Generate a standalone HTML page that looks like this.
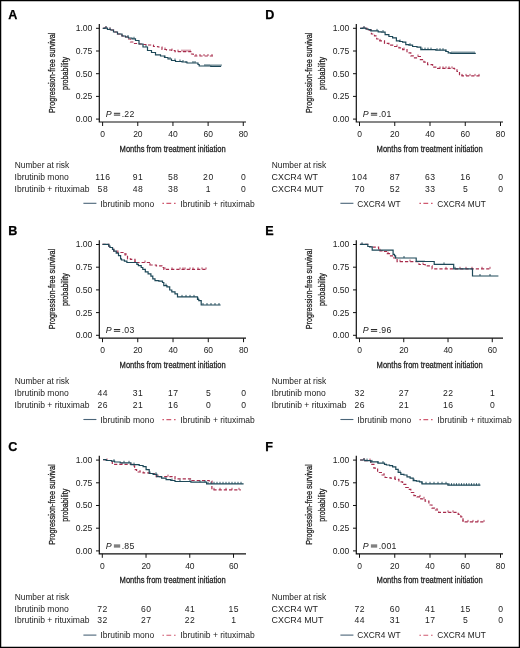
<!DOCTYPE html><html><head><meta charset="utf-8"><style>html,body{margin:0;padding:0;background:#fff}svg{display:block;will-change:transform}</style></head><body>
<svg width="520" height="648" viewBox="0 0 520 648" font-family='"Liberation Sans", sans-serif'>
<rect x="0" y="0" width="520" height="648" fill="#fff"/>
<g transform="translate(0.00,0.00)">
<text x="8.2" y="18.8" font-size="12.6" font-weight="bold" fill="#000" stroke="#000" stroke-width="0.25">A</text>
<text transform="translate(55.4,72.8) rotate(-90)" text-anchor="middle" font-size="9.2" fill="#222" stroke="#222" stroke-width="0.28" textLength="80.5" lengthAdjust="spacingAndGlyphs">Progression-free survival</text>
<text transform="translate(68.4,73.4) rotate(-90)" text-anchor="middle" font-size="9.2" fill="#222" stroke="#222" stroke-width="0.28" textLength="33" lengthAdjust="spacingAndGlyphs">probability</text>
<path d="M99.3,24 V122 H246.00" fill="none" stroke="#111" stroke-width="1.2"/>
<line x1="96" y1="28.30" x2="99.3" y2="28.30" stroke="#111" stroke-width="1"/>
<text x="92.4" y="31.30" text-anchor="end" font-size="8.6" fill="#222">1.00</text>
<line x1="96" y1="51.00" x2="99.3" y2="51.00" stroke="#111" stroke-width="1"/>
<text x="92.4" y="54.00" text-anchor="end" font-size="8.6" fill="#222">0.75</text>
<line x1="96" y1="73.70" x2="99.3" y2="73.70" stroke="#111" stroke-width="1"/>
<text x="92.4" y="76.70" text-anchor="end" font-size="8.6" fill="#222">0.50</text>
<line x1="96" y1="96.40" x2="99.3" y2="96.40" stroke="#111" stroke-width="1"/>
<text x="92.4" y="99.40" text-anchor="end" font-size="8.6" fill="#222">0.25</text>
<line x1="96" y1="119.10" x2="99.3" y2="119.10" stroke="#111" stroke-width="1"/>
<text x="92.4" y="122.10" text-anchor="end" font-size="8.6" fill="#222">0.00</text>
<line x1="102.60" y1="122" x2="102.60" y2="126" stroke="#111" stroke-width="1"/>
<text x="102.70" y="137.0" text-anchor="middle" font-size="8.5" fill="#222">0</text>
<line x1="137.77" y1="122" x2="137.77" y2="126" stroke="#111" stroke-width="1"/>
<text x="137.87" y="137.0" text-anchor="middle" font-size="8.5" fill="#222">20</text>
<line x1="172.94" y1="122" x2="172.94" y2="126" stroke="#111" stroke-width="1"/>
<text x="173.04" y="137.0" text-anchor="middle" font-size="8.5" fill="#222">40</text>
<line x1="208.11" y1="122" x2="208.11" y2="126" stroke="#111" stroke-width="1"/>
<text x="208.21" y="137.0" text-anchor="middle" font-size="8.5" fill="#222">60</text>
<line x1="243.28" y1="122" x2="243.28" y2="126" stroke="#111" stroke-width="1"/>
<text x="243.38" y="137.0" text-anchor="middle" font-size="8.5" fill="#222">80</text>
<text x="172.6" y="151.7" text-anchor="middle" font-size="9.8" fill="#222" stroke="#222" stroke-width="0.3" textLength="106" lengthAdjust="spacingAndGlyphs">Months from treatment initiation</text>
<text x="105.7" y="116.9" font-size="8.8" font-style="italic" fill="#222">P</text>
<path d="M113.9,113.3 H120.2 M113.9,115.1 H120.2" stroke="#222" stroke-width="0.95"/>
<text x="121.7" y="116.9" font-size="8.7" letter-spacing="0.25" fill="#222">.22</text>
<text x="14.7" y="167.8" font-size="8.4" fill="#222">Number at risk</text>
<text x="14.6" y="179.90" font-size="8.55" fill="#222">Ibrutinib mono</text>
<text x="102.90" y="179.90" text-anchor="middle" font-size="8.6" letter-spacing="0.55" fill="#222">116</text>
<text x="138.07" y="179.90" text-anchor="middle" font-size="8.6" letter-spacing="0.55" fill="#222">91</text>
<text x="173.24" y="179.90" text-anchor="middle" font-size="8.6" letter-spacing="0.55" fill="#222">58</text>
<text x="208.41" y="179.90" text-anchor="middle" font-size="8.6" letter-spacing="0.55" fill="#222">20</text>
<text x="243.58" y="179.90" text-anchor="middle" font-size="8.6" letter-spacing="0.55" fill="#222">0</text>
<text x="14.6" y="191.60" font-size="8.55" fill="#222">Ibrutinib + rituximab</text>
<text x="102.90" y="191.60" text-anchor="middle" font-size="8.6" letter-spacing="0.55" fill="#222">58</text>
<text x="138.07" y="191.60" text-anchor="middle" font-size="8.6" letter-spacing="0.55" fill="#222">48</text>
<text x="173.24" y="191.60" text-anchor="middle" font-size="8.6" letter-spacing="0.55" fill="#222">38</text>
<text x="208.41" y="191.60" text-anchor="middle" font-size="8.6" letter-spacing="0.55" fill="#222">1</text>
<text x="243.58" y="191.60" text-anchor="middle" font-size="8.6" letter-spacing="0.55" fill="#222">0</text>
<line x1="83.4" y1="203.3" x2="96.4" y2="203.3" stroke="#4a6478" stroke-width="1.1"/>
<text x="100.3" y="206.6" font-size="8.5" fill="#222">Ibrutinib mono</text>
<line x1="162.4" y1="203.4" x2="176.6" y2="203.4" stroke="#d05a70" stroke-width="1.1" stroke-dasharray="1.6,2.4,4.8,2.8,1.6"/>
<text x="180.3" y="206.6" font-size="8.5" fill="#222">Ibrutinib + rituximab</text>
</g>
<g transform="translate(0.00,216.20)">
<text x="8.2" y="18.8" font-size="12.6" font-weight="bold" fill="#000" stroke="#000" stroke-width="0.25">B</text>
<text transform="translate(55.4,72.8) rotate(-90)" text-anchor="middle" font-size="9.2" fill="#222" stroke="#222" stroke-width="0.28" textLength="80.5" lengthAdjust="spacingAndGlyphs">Progression-free survival</text>
<text transform="translate(68.4,73.4) rotate(-90)" text-anchor="middle" font-size="9.2" fill="#222" stroke="#222" stroke-width="0.28" textLength="33" lengthAdjust="spacingAndGlyphs">probability</text>
<path d="M99.3,24 V122 H246.00" fill="none" stroke="#111" stroke-width="1.2"/>
<line x1="96" y1="28.30" x2="99.3" y2="28.30" stroke="#111" stroke-width="1"/>
<text x="92.4" y="31.30" text-anchor="end" font-size="8.6" fill="#222">1.00</text>
<line x1="96" y1="51.00" x2="99.3" y2="51.00" stroke="#111" stroke-width="1"/>
<text x="92.4" y="54.00" text-anchor="end" font-size="8.6" fill="#222">0.75</text>
<line x1="96" y1="73.70" x2="99.3" y2="73.70" stroke="#111" stroke-width="1"/>
<text x="92.4" y="76.70" text-anchor="end" font-size="8.6" fill="#222">0.50</text>
<line x1="96" y1="96.40" x2="99.3" y2="96.40" stroke="#111" stroke-width="1"/>
<text x="92.4" y="99.40" text-anchor="end" font-size="8.6" fill="#222">0.25</text>
<line x1="96" y1="119.10" x2="99.3" y2="119.10" stroke="#111" stroke-width="1"/>
<text x="92.4" y="122.10" text-anchor="end" font-size="8.6" fill="#222">0.00</text>
<line x1="102.50" y1="122" x2="102.50" y2="126" stroke="#111" stroke-width="1"/>
<text x="102.60" y="137.0" text-anchor="middle" font-size="8.5" fill="#222">0</text>
<line x1="137.76" y1="122" x2="137.76" y2="126" stroke="#111" stroke-width="1"/>
<text x="137.86" y="137.0" text-anchor="middle" font-size="8.5" fill="#222">20</text>
<line x1="173.02" y1="122" x2="173.02" y2="126" stroke="#111" stroke-width="1"/>
<text x="173.12" y="137.0" text-anchor="middle" font-size="8.5" fill="#222">40</text>
<line x1="208.28" y1="122" x2="208.28" y2="126" stroke="#111" stroke-width="1"/>
<text x="208.38" y="137.0" text-anchor="middle" font-size="8.5" fill="#222">60</text>
<line x1="243.54" y1="122" x2="243.54" y2="126" stroke="#111" stroke-width="1"/>
<text x="243.64" y="137.0" text-anchor="middle" font-size="8.5" fill="#222">80</text>
<text x="172.6" y="151.7" text-anchor="middle" font-size="9.8" fill="#222" stroke="#222" stroke-width="0.3" textLength="106" lengthAdjust="spacingAndGlyphs">Months from treatment initiation</text>
<text x="105.7" y="116.9" font-size="8.8" font-style="italic" fill="#222">P</text>
<path d="M113.9,113.3 H120.2 M113.9,115.1 H120.2" stroke="#222" stroke-width="0.95"/>
<text x="121.7" y="116.9" font-size="8.7" letter-spacing="0.25" fill="#222">.03</text>
<text x="14.7" y="167.8" font-size="8.4" fill="#222">Number at risk</text>
<text x="14.6" y="179.90" font-size="8.55" fill="#222">Ibrutinib mono</text>
<text x="102.80" y="179.90" text-anchor="middle" font-size="8.6" letter-spacing="0.55" fill="#222">44</text>
<text x="138.06" y="179.90" text-anchor="middle" font-size="8.6" letter-spacing="0.55" fill="#222">31</text>
<text x="173.32" y="179.90" text-anchor="middle" font-size="8.6" letter-spacing="0.55" fill="#222">17</text>
<text x="208.58" y="179.90" text-anchor="middle" font-size="8.6" letter-spacing="0.55" fill="#222">5</text>
<text x="243.84" y="179.90" text-anchor="middle" font-size="8.6" letter-spacing="0.55" fill="#222">0</text>
<text x="14.6" y="191.60" font-size="8.55" fill="#222">Ibrutinib + rituximab</text>
<text x="102.80" y="191.60" text-anchor="middle" font-size="8.6" letter-spacing="0.55" fill="#222">26</text>
<text x="138.06" y="191.60" text-anchor="middle" font-size="8.6" letter-spacing="0.55" fill="#222">21</text>
<text x="173.32" y="191.60" text-anchor="middle" font-size="8.6" letter-spacing="0.55" fill="#222">16</text>
<text x="208.58" y="191.60" text-anchor="middle" font-size="8.6" letter-spacing="0.55" fill="#222">0</text>
<text x="243.84" y="191.60" text-anchor="middle" font-size="8.6" letter-spacing="0.55" fill="#222">0</text>
<line x1="83.4" y1="203.3" x2="96.4" y2="203.3" stroke="#4a6478" stroke-width="1.1"/>
<text x="100.3" y="206.6" font-size="8.5" fill="#222">Ibrutinib mono</text>
<line x1="162.4" y1="203.4" x2="176.6" y2="203.4" stroke="#d05a70" stroke-width="1.1" stroke-dasharray="1.6,2.4,4.8,2.8,1.6"/>
<text x="180.3" y="206.6" font-size="8.5" fill="#222">Ibrutinib + rituximab</text>
</g>
<g transform="translate(0.00,431.80)">
<text x="8.2" y="18.8" font-size="12.6" font-weight="bold" fill="#000" stroke="#000" stroke-width="0.25">C</text>
<text transform="translate(55.4,72.8) rotate(-90)" text-anchor="middle" font-size="9.2" fill="#222" stroke="#222" stroke-width="0.28" textLength="80.5" lengthAdjust="spacingAndGlyphs">Progression-free survival</text>
<text transform="translate(68.4,73.4) rotate(-90)" text-anchor="middle" font-size="9.2" fill="#222" stroke="#222" stroke-width="0.28" textLength="33" lengthAdjust="spacingAndGlyphs">probability</text>
<path d="M99.3,24 V122 H246.00" fill="none" stroke="#111" stroke-width="1.2"/>
<line x1="96" y1="28.30" x2="99.3" y2="28.30" stroke="#111" stroke-width="1"/>
<text x="92.4" y="31.30" text-anchor="end" font-size="8.6" fill="#222">1.00</text>
<line x1="96" y1="51.00" x2="99.3" y2="51.00" stroke="#111" stroke-width="1"/>
<text x="92.4" y="54.00" text-anchor="end" font-size="8.6" fill="#222">0.75</text>
<line x1="96" y1="73.70" x2="99.3" y2="73.70" stroke="#111" stroke-width="1"/>
<text x="92.4" y="76.70" text-anchor="end" font-size="8.6" fill="#222">0.50</text>
<line x1="96" y1="96.40" x2="99.3" y2="96.40" stroke="#111" stroke-width="1"/>
<text x="92.4" y="99.40" text-anchor="end" font-size="8.6" fill="#222">0.25</text>
<line x1="96" y1="119.10" x2="99.3" y2="119.10" stroke="#111" stroke-width="1"/>
<text x="92.4" y="122.10" text-anchor="end" font-size="8.6" fill="#222">0.00</text>
<line x1="102.30" y1="122" x2="102.30" y2="126" stroke="#111" stroke-width="1"/>
<text x="102.40" y="137.0" text-anchor="middle" font-size="8.5" fill="#222">0</text>
<line x1="146.04" y1="122" x2="146.04" y2="126" stroke="#111" stroke-width="1"/>
<text x="146.14" y="137.0" text-anchor="middle" font-size="8.5" fill="#222">20</text>
<line x1="189.78" y1="122" x2="189.78" y2="126" stroke="#111" stroke-width="1"/>
<text x="189.88" y="137.0" text-anchor="middle" font-size="8.5" fill="#222">40</text>
<line x1="233.52" y1="122" x2="233.52" y2="126" stroke="#111" stroke-width="1"/>
<text x="233.62" y="137.0" text-anchor="middle" font-size="8.5" fill="#222">60</text>
<text x="172.6" y="151.7" text-anchor="middle" font-size="9.8" fill="#222" stroke="#222" stroke-width="0.3" textLength="106" lengthAdjust="spacingAndGlyphs">Months from treatment initiation</text>
<text x="105.7" y="116.9" font-size="8.8" font-style="italic" fill="#222">P</text>
<path d="M113.9,113.3 H120.2 M113.9,115.1 H120.2" stroke="#222" stroke-width="0.95"/>
<text x="121.7" y="116.9" font-size="8.7" letter-spacing="0.25" fill="#222">.85</text>
<text x="14.7" y="167.8" font-size="8.4" fill="#222">Number at risk</text>
<text x="14.6" y="179.90" font-size="8.55" fill="#222">Ibrutinib mono</text>
<text x="102.60" y="179.90" text-anchor="middle" font-size="8.6" letter-spacing="0.55" fill="#222">72</text>
<text x="146.34" y="179.90" text-anchor="middle" font-size="8.6" letter-spacing="0.55" fill="#222">60</text>
<text x="190.08" y="179.90" text-anchor="middle" font-size="8.6" letter-spacing="0.55" fill="#222">41</text>
<text x="233.82" y="179.90" text-anchor="middle" font-size="8.6" letter-spacing="0.55" fill="#222">15</text>
<text x="14.6" y="191.60" font-size="8.55" fill="#222">Ibrutinib + rituximab</text>
<text x="102.60" y="191.60" text-anchor="middle" font-size="8.6" letter-spacing="0.55" fill="#222">32</text>
<text x="146.34" y="191.60" text-anchor="middle" font-size="8.6" letter-spacing="0.55" fill="#222">27</text>
<text x="190.08" y="191.60" text-anchor="middle" font-size="8.6" letter-spacing="0.55" fill="#222">22</text>
<text x="233.82" y="191.60" text-anchor="middle" font-size="8.6" letter-spacing="0.55" fill="#222">1</text>
<line x1="83.4" y1="203.3" x2="96.4" y2="203.3" stroke="#4a6478" stroke-width="1.1"/>
<text x="100.3" y="206.6" font-size="8.5" fill="#222">Ibrutinib mono</text>
<line x1="162.4" y1="203.4" x2="176.6" y2="203.4" stroke="#d05a70" stroke-width="1.1" stroke-dasharray="1.6,2.4,4.8,2.8,1.6"/>
<text x="180.3" y="206.6" font-size="8.5" fill="#222">Ibrutinib + rituximab</text>
</g>
<g transform="translate(257.00,0.00)">
<text x="8.2" y="18.8" font-size="12.6" font-weight="bold" fill="#000" stroke="#000" stroke-width="0.25">D</text>
<text transform="translate(55.4,72.8) rotate(-90)" text-anchor="middle" font-size="9.2" fill="#222" stroke="#222" stroke-width="0.28" textLength="80.5" lengthAdjust="spacingAndGlyphs">Progression-free survival</text>
<text transform="translate(68.4,73.4) rotate(-90)" text-anchor="middle" font-size="9.2" fill="#222" stroke="#222" stroke-width="0.28" textLength="33" lengthAdjust="spacingAndGlyphs">probability</text>
<path d="M99.3,24 V122 H246.00" fill="none" stroke="#111" stroke-width="1.2"/>
<line x1="96" y1="28.30" x2="99.3" y2="28.30" stroke="#111" stroke-width="1"/>
<text x="92.4" y="31.30" text-anchor="end" font-size="8.6" fill="#222">1.00</text>
<line x1="96" y1="51.00" x2="99.3" y2="51.00" stroke="#111" stroke-width="1"/>
<text x="92.4" y="54.00" text-anchor="end" font-size="8.6" fill="#222">0.75</text>
<line x1="96" y1="73.70" x2="99.3" y2="73.70" stroke="#111" stroke-width="1"/>
<text x="92.4" y="76.70" text-anchor="end" font-size="8.6" fill="#222">0.50</text>
<line x1="96" y1="96.40" x2="99.3" y2="96.40" stroke="#111" stroke-width="1"/>
<text x="92.4" y="99.40" text-anchor="end" font-size="8.6" fill="#222">0.25</text>
<line x1="96" y1="119.10" x2="99.3" y2="119.10" stroke="#111" stroke-width="1"/>
<text x="92.4" y="122.10" text-anchor="end" font-size="8.6" fill="#222">0.00</text>
<line x1="102.50" y1="122" x2="102.50" y2="126" stroke="#111" stroke-width="1"/>
<text x="102.60" y="137.0" text-anchor="middle" font-size="8.5" fill="#222">0</text>
<line x1="137.75" y1="122" x2="137.75" y2="126" stroke="#111" stroke-width="1"/>
<text x="137.85" y="137.0" text-anchor="middle" font-size="8.5" fill="#222">20</text>
<line x1="173.00" y1="122" x2="173.00" y2="126" stroke="#111" stroke-width="1"/>
<text x="173.10" y="137.0" text-anchor="middle" font-size="8.5" fill="#222">40</text>
<line x1="208.25" y1="122" x2="208.25" y2="126" stroke="#111" stroke-width="1"/>
<text x="208.35" y="137.0" text-anchor="middle" font-size="8.5" fill="#222">60</text>
<line x1="243.50" y1="122" x2="243.50" y2="126" stroke="#111" stroke-width="1"/>
<text x="243.60" y="137.0" text-anchor="middle" font-size="8.5" fill="#222">80</text>
<text x="172.6" y="151.7" text-anchor="middle" font-size="9.8" fill="#222" stroke="#222" stroke-width="0.3" textLength="106" lengthAdjust="spacingAndGlyphs">Months from treatment initiation</text>
<text x="105.7" y="116.9" font-size="8.8" font-style="italic" fill="#222">P</text>
<path d="M113.9,113.3 H120.2 M113.9,115.1 H120.2" stroke="#222" stroke-width="0.95"/>
<text x="121.7" y="116.9" font-size="8.7" letter-spacing="0.25" fill="#222">.01</text>
<text x="14.7" y="167.8" font-size="8.4" fill="#222">Number at risk</text>
<text x="14.6" y="179.90" font-size="8.9" fill="#222">CXCR4 WT</text>
<text x="102.80" y="179.90" text-anchor="middle" font-size="8.6" letter-spacing="0.55" fill="#222">104</text>
<text x="138.05" y="179.90" text-anchor="middle" font-size="8.6" letter-spacing="0.55" fill="#222">87</text>
<text x="173.30" y="179.90" text-anchor="middle" font-size="8.6" letter-spacing="0.55" fill="#222">63</text>
<text x="208.55" y="179.90" text-anchor="middle" font-size="8.6" letter-spacing="0.55" fill="#222">16</text>
<text x="243.80" y="179.90" text-anchor="middle" font-size="8.6" letter-spacing="0.55" fill="#222">0</text>
<text x="14.6" y="191.60" font-size="8.9" fill="#222">CXCR4 MUT</text>
<text x="102.80" y="191.60" text-anchor="middle" font-size="8.6" letter-spacing="0.55" fill="#222">70</text>
<text x="138.05" y="191.60" text-anchor="middle" font-size="8.6" letter-spacing="0.55" fill="#222">52</text>
<text x="173.30" y="191.60" text-anchor="middle" font-size="8.6" letter-spacing="0.55" fill="#222">33</text>
<text x="208.55" y="191.60" text-anchor="middle" font-size="8.6" letter-spacing="0.55" fill="#222">5</text>
<text x="243.80" y="191.60" text-anchor="middle" font-size="8.6" letter-spacing="0.55" fill="#222">0</text>
<line x1="83.4" y1="203.3" x2="96.4" y2="203.3" stroke="#4a6478" stroke-width="1.1"/>
<text x="100.3" y="206.6" font-size="8.3" fill="#222">CXCR4 WT</text>
<line x1="162.4" y1="203.4" x2="176.6" y2="203.4" stroke="#d05a70" stroke-width="1.1" stroke-dasharray="1.6,2.4,4.8,2.8,1.6"/>
<text x="180.3" y="206.6" font-size="8.3" fill="#222">CXCR4 MUT</text>
</g>
<g transform="translate(257.00,216.20)">
<text x="8.2" y="18.8" font-size="12.6" font-weight="bold" fill="#000" stroke="#000" stroke-width="0.25">E</text>
<text transform="translate(55.4,72.8) rotate(-90)" text-anchor="middle" font-size="9.2" fill="#222" stroke="#222" stroke-width="0.28" textLength="80.5" lengthAdjust="spacingAndGlyphs">Progression-free survival</text>
<text transform="translate(68.4,73.4) rotate(-90)" text-anchor="middle" font-size="9.2" fill="#222" stroke="#222" stroke-width="0.28" textLength="33" lengthAdjust="spacingAndGlyphs">probability</text>
<path d="M99.3,24 V122 H246.00" fill="none" stroke="#111" stroke-width="1.2"/>
<line x1="96" y1="28.30" x2="99.3" y2="28.30" stroke="#111" stroke-width="1"/>
<text x="92.4" y="31.30" text-anchor="end" font-size="8.6" fill="#222">1.00</text>
<line x1="96" y1="51.00" x2="99.3" y2="51.00" stroke="#111" stroke-width="1"/>
<text x="92.4" y="54.00" text-anchor="end" font-size="8.6" fill="#222">0.75</text>
<line x1="96" y1="73.70" x2="99.3" y2="73.70" stroke="#111" stroke-width="1"/>
<text x="92.4" y="76.70" text-anchor="end" font-size="8.6" fill="#222">0.50</text>
<line x1="96" y1="96.40" x2="99.3" y2="96.40" stroke="#111" stroke-width="1"/>
<text x="92.4" y="99.40" text-anchor="end" font-size="8.6" fill="#222">0.25</text>
<line x1="96" y1="119.10" x2="99.3" y2="119.10" stroke="#111" stroke-width="1"/>
<text x="92.4" y="122.10" text-anchor="end" font-size="8.6" fill="#222">0.00</text>
<line x1="102.50" y1="122" x2="102.50" y2="126" stroke="#111" stroke-width="1"/>
<text x="102.60" y="137.0" text-anchor="middle" font-size="8.5" fill="#222">0</text>
<line x1="146.76" y1="122" x2="146.76" y2="126" stroke="#111" stroke-width="1"/>
<text x="146.86" y="137.0" text-anchor="middle" font-size="8.5" fill="#222">20</text>
<line x1="191.02" y1="122" x2="191.02" y2="126" stroke="#111" stroke-width="1"/>
<text x="191.12" y="137.0" text-anchor="middle" font-size="8.5" fill="#222">40</text>
<line x1="235.28" y1="122" x2="235.28" y2="126" stroke="#111" stroke-width="1"/>
<text x="235.38" y="137.0" text-anchor="middle" font-size="8.5" fill="#222">60</text>
<text x="172.6" y="151.7" text-anchor="middle" font-size="9.8" fill="#222" stroke="#222" stroke-width="0.3" textLength="106" lengthAdjust="spacingAndGlyphs">Months from treatment initiation</text>
<text x="105.7" y="116.9" font-size="8.8" font-style="italic" fill="#222">P</text>
<path d="M113.9,113.3 H120.2 M113.9,115.1 H120.2" stroke="#222" stroke-width="0.95"/>
<text x="121.7" y="116.9" font-size="8.7" letter-spacing="0.25" fill="#222">.96</text>
<text x="14.7" y="167.8" font-size="8.4" fill="#222">Number at risk</text>
<text x="14.6" y="179.90" font-size="8.55" fill="#222">Ibrutinib mono</text>
<text x="102.80" y="179.90" text-anchor="middle" font-size="8.6" letter-spacing="0.55" fill="#222">32</text>
<text x="147.06" y="179.90" text-anchor="middle" font-size="8.6" letter-spacing="0.55" fill="#222">27</text>
<text x="191.32" y="179.90" text-anchor="middle" font-size="8.6" letter-spacing="0.55" fill="#222">22</text>
<text x="235.58" y="179.90" text-anchor="middle" font-size="8.6" letter-spacing="0.55" fill="#222">1</text>
<text x="14.6" y="191.60" font-size="8.55" fill="#222">Ibrutinib + rituximab</text>
<text x="102.80" y="191.60" text-anchor="middle" font-size="8.6" letter-spacing="0.55" fill="#222">26</text>
<text x="147.06" y="191.60" text-anchor="middle" font-size="8.6" letter-spacing="0.55" fill="#222">21</text>
<text x="191.32" y="191.60" text-anchor="middle" font-size="8.6" letter-spacing="0.55" fill="#222">16</text>
<text x="235.58" y="191.60" text-anchor="middle" font-size="8.6" letter-spacing="0.55" fill="#222">0</text>
<line x1="83.4" y1="203.3" x2="96.4" y2="203.3" stroke="#4a6478" stroke-width="1.1"/>
<text x="100.3" y="206.6" font-size="8.5" fill="#222">Ibrutinib mono</text>
<line x1="162.4" y1="203.4" x2="176.6" y2="203.4" stroke="#d05a70" stroke-width="1.1" stroke-dasharray="1.6,2.4,4.8,2.8,1.6"/>
<text x="180.3" y="206.6" font-size="8.5" fill="#222">Ibrutinib + rituximab</text>
</g>
<g transform="translate(257.00,431.80)">
<text x="8.2" y="18.8" font-size="12.6" font-weight="bold" fill="#000" stroke="#000" stroke-width="0.25">F</text>
<text transform="translate(55.4,72.8) rotate(-90)" text-anchor="middle" font-size="9.2" fill="#222" stroke="#222" stroke-width="0.28" textLength="80.5" lengthAdjust="spacingAndGlyphs">Progression-free survival</text>
<text transform="translate(68.4,73.4) rotate(-90)" text-anchor="middle" font-size="9.2" fill="#222" stroke="#222" stroke-width="0.28" textLength="33" lengthAdjust="spacingAndGlyphs">probability</text>
<path d="M99.3,24 V122 H246.00" fill="none" stroke="#111" stroke-width="1.2"/>
<line x1="96" y1="28.30" x2="99.3" y2="28.30" stroke="#111" stroke-width="1"/>
<text x="92.4" y="31.30" text-anchor="end" font-size="8.6" fill="#222">1.00</text>
<line x1="96" y1="51.00" x2="99.3" y2="51.00" stroke="#111" stroke-width="1"/>
<text x="92.4" y="54.00" text-anchor="end" font-size="8.6" fill="#222">0.75</text>
<line x1="96" y1="73.70" x2="99.3" y2="73.70" stroke="#111" stroke-width="1"/>
<text x="92.4" y="76.70" text-anchor="end" font-size="8.6" fill="#222">0.50</text>
<line x1="96" y1="96.40" x2="99.3" y2="96.40" stroke="#111" stroke-width="1"/>
<text x="92.4" y="99.40" text-anchor="end" font-size="8.6" fill="#222">0.25</text>
<line x1="96" y1="119.10" x2="99.3" y2="119.10" stroke="#111" stroke-width="1"/>
<text x="92.4" y="122.10" text-anchor="end" font-size="8.6" fill="#222">0.00</text>
<line x1="102.50" y1="122" x2="102.50" y2="126" stroke="#111" stroke-width="1"/>
<text x="102.60" y="137.0" text-anchor="middle" font-size="8.5" fill="#222">0</text>
<line x1="137.75" y1="122" x2="137.75" y2="126" stroke="#111" stroke-width="1"/>
<text x="137.85" y="137.0" text-anchor="middle" font-size="8.5" fill="#222">20</text>
<line x1="173.00" y1="122" x2="173.00" y2="126" stroke="#111" stroke-width="1"/>
<text x="173.10" y="137.0" text-anchor="middle" font-size="8.5" fill="#222">40</text>
<line x1="208.25" y1="122" x2="208.25" y2="126" stroke="#111" stroke-width="1"/>
<text x="208.35" y="137.0" text-anchor="middle" font-size="8.5" fill="#222">60</text>
<line x1="243.50" y1="122" x2="243.50" y2="126" stroke="#111" stroke-width="1"/>
<text x="243.60" y="137.0" text-anchor="middle" font-size="8.5" fill="#222">80</text>
<text x="172.6" y="151.7" text-anchor="middle" font-size="9.8" fill="#222" stroke="#222" stroke-width="0.3" textLength="106" lengthAdjust="spacingAndGlyphs">Months from treatment initiation</text>
<text x="105.7" y="116.9" font-size="8.8" font-style="italic" fill="#222">P</text>
<path d="M113.9,113.3 H120.2 M113.9,115.1 H120.2" stroke="#222" stroke-width="0.95"/>
<text x="121.7" y="116.9" font-size="8.7" letter-spacing="0.25" fill="#222">.001</text>
<text x="14.7" y="167.8" font-size="8.4" fill="#222">Number at risk</text>
<text x="14.6" y="179.90" font-size="8.9" fill="#222">CXCR4 WT</text>
<text x="102.80" y="179.90" text-anchor="middle" font-size="8.6" letter-spacing="0.55" fill="#222">72</text>
<text x="138.05" y="179.90" text-anchor="middle" font-size="8.6" letter-spacing="0.55" fill="#222">60</text>
<text x="173.30" y="179.90" text-anchor="middle" font-size="8.6" letter-spacing="0.55" fill="#222">41</text>
<text x="208.55" y="179.90" text-anchor="middle" font-size="8.6" letter-spacing="0.55" fill="#222">15</text>
<text x="243.80" y="179.90" text-anchor="middle" font-size="8.6" letter-spacing="0.55" fill="#222">0</text>
<text x="14.6" y="191.60" font-size="8.9" fill="#222">CXCR4 MUT</text>
<text x="102.80" y="191.60" text-anchor="middle" font-size="8.6" letter-spacing="0.55" fill="#222">44</text>
<text x="138.05" y="191.60" text-anchor="middle" font-size="8.6" letter-spacing="0.55" fill="#222">31</text>
<text x="173.30" y="191.60" text-anchor="middle" font-size="8.6" letter-spacing="0.55" fill="#222">17</text>
<text x="208.55" y="191.60" text-anchor="middle" font-size="8.6" letter-spacing="0.55" fill="#222">5</text>
<text x="243.80" y="191.60" text-anchor="middle" font-size="8.6" letter-spacing="0.55" fill="#222">0</text>
<line x1="83.4" y1="203.3" x2="96.4" y2="203.3" stroke="#4a6478" stroke-width="1.1"/>
<text x="100.3" y="206.6" font-size="8.3" fill="#222">CXCR4 WT</text>
<line x1="162.4" y1="203.4" x2="176.6" y2="203.4" stroke="#d05a70" stroke-width="1.1" stroke-dasharray="1.6,2.4,4.8,2.8,1.6"/>
<text x="180.3" y="206.6" font-size="8.3" fill="#222">CXCR4 MUT</text>
</g>
<path d="M102.8,28.4 H104.4 V28.1 H106.0 H107.5 V29.5 H109.0 H110.5 V30.0 H112.0 H113.5 V32.0 H115.0 H117.5 V34.0 H120.0 H122.0 V36.0 H124.0 H125.5 V37.0 H127.0 H128.0 V39.0 H129.0 H130.5 V42.0 H132.0 H133.5 V43.5 H135.0 H137.5 V44.0 H140.0 H142.5 V44.5 H145.0 H148.0 V45.0 H151.0 H153.5 V46.5 H156.0 H158.0 V47.0 H160.0 H162.0 V49.5 H164.0 H166.5 V50.0 H169.0 H171.5 V50.5 H174.0 H175.0 V51.6 H176.0 H191.0 H191.5 V54.0 H193.2 V56.0 H195.0 H213.0" fill="none" stroke="#a82c4c" stroke-width="1.2" stroke-linejoin="miter" stroke-dasharray="3.2,2"/>
<path d="M106.0,26.1 V28.1 M110.0,27.5 V29.5 M165.0,47.5 V49.5 M172.0,48.5 V50.5 M178.0,49.6 V51.6 M182.0,49.6 V51.6 M184.0,49.6 V51.6 M186.0,49.6 V51.6 M188.0,49.6 V51.6 M190.0,49.6 V51.6 M196.0,54.0 V56.0 M200.0,54.0 V56.0 M204.0,54.0 V56.0 M208.0,54.0 V56.0 M212.0,54.0 V56.0" fill="none" stroke="#a82c4c" stroke-width="0.9"/>
<path d="M102.8,28.4 H104.4 V28.1 H106.0 H107.5 V29.5 H109.0 H110.5 V30.0 H112.0 H113.5 V32.0 H115.0 H117.5 V34.0 H120.0 H122.0 V36.0 H124.0 H125.5 V37.0 H127.0 H128.5 V38.0 H130.0 H132.0 V38.8 H134.0 H135.5 V40.5 H137.0 H139.0 V44.0 H141.0 H143.0 V47.0 H145.0 H147.5 V50.5 H150.0 H151.5 V52.5 H153.0 H155.5 V54.8 H158.0 H160.5 V56.0 H163.0 H164.5 V57.5 H166.0 H168.0 V59.0 H170.0 H171.5 V60.5 H173.0 H175.5 V61.5 H178.0 H182.0 V62.0 H186.0 H187.0 V63.0 H197.0 H198.0 V64.5 H199.2 V66.0 H200.5 H210.8 V66.3 H221.0" fill="none" stroke="#1d4858" stroke-width="1.2" stroke-linejoin="miter"/>
<path d="M106.0,26.1 V28.1 M110.0,27.5 V29.5 M128.0,35.0 V37.0 M134.0,36.8 V38.8 M146.0,45.0 V47.0 M165.0,55.5 V57.5 M170.0,57.0 V59.0 M175.0,58.5 V60.5 M180.0,59.5 V61.5 M183.0,60.0 V62.0 M186.0,61.0 V63.0 M193.0,61.0 V63.0 M195.0,61.0 V63.0 M205.0,64.0 V66.0 M207.0,64.0 V66.0 M209.0,64.0 V66.0 M211.0,64.3 V66.3 M213.0,64.3 V66.3 M215.0,64.3 V66.3 M217.0,64.3 V66.3 M219.0,64.3 V66.3 M221.0,64.3 V66.3" fill="none" stroke="#1d4858" stroke-width="0.9"/>
<path d="M102.5,244.4 H107.5 H108.8 V246.2 H110.0 V247.5 H111.2 H112.5 V249.4 H113.8 V251.2 H115.0 H116.9 V252.5 H118.8 H123.8 H125.0 V255.0 H126.2 H127.5 V258.8 H128.8 H130.6 V259.4 H132.5 H135.0 V262.5 H137.5 H147.5 H150.0 V265.0 H152.5 H156.2 V265.8 H160.0 H161.9 V267.5 H163.8 H163.8 V269.4 H206.2" fill="none" stroke="#a82c4c" stroke-width="1.2" stroke-linejoin="miter" stroke-dasharray="3.2,2"/>
<path d="M118.0,250.5 V252.5 M126.0,253.0 V255.0 M135.0,260.5 V262.5 M145.0,260.5 V262.5 M150.0,263.0 V265.0 M165.0,267.4 V269.4 M172.0,267.4 V269.4 M180.0,267.4 V269.4 M183.0,267.4 V269.4 M185.0,267.4 V269.4 M190.0,267.4 V269.4 M193.0,267.4 V269.4 M198.0,267.4 V269.4 M202.0,267.4 V269.4 M206.0,267.4 V269.4" fill="none" stroke="#a82c4c" stroke-width="0.9"/>
<path d="M102.5,244.4 H107.5 H108.8 V246.2 H110.0 V247.5 H111.2 H112.5 V249.4 H113.8 V251.2 H115.0 H116.2 V253.1 H117.5 H118.5 V255.6 H119.4 H120.6 V258.8 H121.5 V260.0 H122.5 H124.4 V261.2 H126.2 H126.9 V262.5 H136.2 H136.9 V264.4 H138.4 V265.6 H140.0 H141.2 V267.5 H142.8 V269.4 H144.4 H145.3 V271.9 H146.2 H148.1 V273.8 H150.0 H150.9 V276.2 H151.9 H152.8 V278.8 H153.8 H155.0 V280.6 H156.2 H158.8 V281.2 H161.2 H162.5 V282.5 H163.8 V285.6 H165.0 H166.9 V286.9 H168.8 H169.7 V290.0 H170.6 H171.8 V291.9 H173.1 H175.0 V293.8 H176.9 H177.5 V296.9 H196.9 H197.5 V299.4 H198.8 V300.6 H200.0 H201.2 V305.0 H220.6" fill="none" stroke="#1d4858" stroke-width="1.2" stroke-linejoin="miter"/>
<path d="M166.0,283.6 V285.6 M182.0,294.9 V296.9 M186.0,294.9 V296.9 M190.0,294.9 V296.9 M194.0,294.9 V296.9 M198.0,297.4 V299.4 M203.0,303.0 V305.0 M207.0,303.0 V305.0 M211.0,303.0 V305.0 M215.0,303.0 V305.0 M219.0,303.0 V305.0" fill="none" stroke="#1d4858" stroke-width="0.9"/>
<path d="M103.1,459.7 H106.9 V460.5 H110.8 H112.3 V464.3 H113.8 H130.8 H132.3 V465.8 H133.8 H134.6 V469.7 H136.6 V472.0 H138.5 H143.1 V472.8 H147.7 H149.2 V473.5 H150.8 H156.2 V476.6 H161.5 H173.8 H175.0 V478.9 H176.2 H191.6 V480.5 H206.9 H209.2 V481.0 H211.5 H211.9 V489.8 H240.8" fill="none" stroke="#a82c4c" stroke-width="1.2" stroke-linejoin="miter" stroke-dasharray="3.2,2"/>
<path d="M107.0,458.5 V460.5 M122.0,462.3 V464.3 M140.0,470.0 V472.0 M158.0,474.6 V476.6 M168.0,474.6 V476.6 M214.0,487.8 V489.8 M220.0,487.8 V489.8 M226.0,487.8 V489.8 M232.0,487.8 V489.8 M239.0,487.8 V489.8" fill="none" stroke="#a82c4c" stroke-width="0.9"/>
<path d="M103.1,459.7 H106.2 V460.5 H109.2 H111.5 V461.2 H113.8 H114.6 V462.0 H115.4 H120.2 V462.8 H125.0 H130.9 V464.6 H136.9 H139.2 V465.5 H141.5 H143.1 V466.6 H144.6 H146.1 V469.7 H147.7 H149.2 V473.5 H150.8 H153.1 V474.3 H155.4 H156.9 V476.6 H158.5 H161.6 V478.2 H164.6 H166.1 V479.7 H167.7 H170.8 V480.5 H173.8 H175.0 V481.5 H176.2 H190.9 V482.2 H205.6 H206.6 V483.8 H243.6" fill="none" stroke="#1d4858" stroke-width="1.2" stroke-linejoin="miter"/>
<path d="M114.0,459.2 V461.2 M124.0,460.8 V462.8 M129.0,460.8 V462.8 M134.0,462.6 V464.6 M150.0,471.5 V473.5 M156.0,472.3 V474.3 M172.0,478.5 V480.5 M180.0,479.5 V481.5 M190.0,479.5 V481.5 M200.0,480.2 V482.2 M205.0,480.2 V482.2 M208.0,481.8 V483.8 M211.0,481.8 V483.8 M214.0,481.8 V483.8 M217.0,481.8 V483.8 M220.0,481.8 V483.8 M223.0,481.8 V483.8 M226.0,481.8 V483.8 M229.0,481.8 V483.8 M232.0,481.8 V483.8 M235.0,481.8 V483.8 M238.0,481.8 V483.8 M241.0,481.8 V483.8" fill="none" stroke="#1d4858" stroke-width="0.9"/>
<path d="M360.1,28.4 H364.5 H367.0 V30.2 H369.5 H371.4 V34.0 H373.2 H374.5 V35.9 H375.8 H376.7 V39.0 H377.6 H379.8 V40.9 H382.0 H384.5 V43.4 H387.0 H388.9 V45.2 H390.8 H393.9 V46.5 H397.0 H398.9 V47.8 H400.8 H402.6 V49.6 H404.5 H407.0 V52.8 H409.5 H410.8 V55.9 H412.0 H413.9 V57.8 H415.8 H417.3 V56.5 H418.9 H420.4 V59.6 H422.0 H423.9 V62.1 H425.8 H427.6 V64.6 H429.5 H432.6 V67.1 H435.8 H437.6 V68.4 H439.5 H453.2 H454.5 V69.0 H455.8 H457.0 V71.5 H458.2 H459.5 V74.6 H460.8 H462.0 V75.9 H479.5" fill="none" stroke="#a82c4c" stroke-width="1.2" stroke-linejoin="miter" stroke-dasharray="3.2,2"/>
<path d="M364.0,26.4 V28.4 M380.0,38.9 V40.9 M397.0,44.5 V46.5 M404.0,47.6 V49.6 M418.0,54.5 V56.5 M440.0,66.4 V68.4 M443.0,66.4 V68.4 M446.0,66.4 V68.4 M449.0,66.4 V68.4 M452.0,66.4 V68.4 M462.0,73.9 V75.9 M466.0,73.9 V75.9 M470.0,73.9 V75.9 M475.0,73.9 V75.9 M479.0,73.9 V75.9" fill="none" stroke="#a82c4c" stroke-width="0.9"/>
<path d="M360.1,28.4 H362.3 V28.2 H364.5 H365.8 V29.0 H367.0 H368.2 V29.6 H369.5 H370.8 V30.9 H372.0 H377.0 H378.2 V31.8 H379.5 H381.4 V32.1 H383.2 H385.1 V34.6 H387.0 H388.9 V36.5 H390.8 H392.6 V37.8 H394.5 H396.4 V40.9 H398.2 H399.5 V41.5 H400.8 H402.6 V42.1 H404.5 H405.8 V44.6 H407.0 H408.9 V45.2 H410.8 H412.6 V46.5 H414.5 H417.0 V47.1 H419.5 H420.8 V49.6 H422.0 H434.5 H435.8 V50.2 H437.0 H444.5 H445.8 V51.5 H447.0 H448.2 V52.8 H449.5 H450.8 V53.4 H475.8" fill="none" stroke="#1d4858" stroke-width="1.2" stroke-linejoin="miter"/>
<path d="M364.0,26.2 V28.2 M377.0,28.9 V30.9 M383.0,30.1 V32.1 M400.0,39.5 V41.5 M410.0,43.2 V45.2 M422.0,47.6 V49.6 M425.0,47.6 V49.6 M428.0,47.6 V49.6 M431.0,47.6 V49.6 M437.0,48.2 V50.2 M440.0,48.2 V50.2 M443.0,48.2 V50.2 M446.0,49.5 V51.5 M452.0,51.4 V53.4 M454.0,51.4 V53.4 M456.0,51.4 V53.4 M458.0,51.4 V53.4 M460.0,51.4 V53.4 M462.0,51.4 V53.4 M464.0,51.4 V53.4 M466.0,51.4 V53.4 M468.0,51.4 V53.4 M470.0,51.4 V53.4 M472.0,51.4 V53.4 M474.0,51.4 V53.4" fill="none" stroke="#1d4858" stroke-width="0.9"/>
<path d="M359.9,244.3 H367.1 H367.8 V246.5 H372.5 V247.2 H377.2 H378.6 V250.8 H382.2 V251.5 H385.9 H387.3 V253.7 H389.5 V255.9 H391.6 H393.8 V258.0 H396.0 H397.1 V261.6 H398.1 H414.7 H419.0 V264.5 H423.4 H425.2 V265.9 H427.0 H432.1 V268.8 H437.1 H490.5" fill="none" stroke="#a82c4c" stroke-width="1.2" stroke-linejoin="miter" stroke-dasharray="3.2,2"/>
<path d="M380.0,248.8 V250.8 M388.0,251.7 V253.7 M400.0,259.6 V261.6 M410.0,259.6 V261.6 M423.0,262.5 V264.5 M446.0,266.8 V268.8 M460.0,266.8 V268.8 M466.0,266.8 V268.8 M472.0,266.8 V268.8 M482.0,266.8 V268.8 M490.0,266.8 V268.8" fill="none" stroke="#a82c4c" stroke-width="0.9"/>
<path d="M359.9,244.3 H367.1 H367.8 V246.5 H369.6 V246.9 H371.4 H372.2 V250.1 H391.6 H393.1 V254.4 H394.5 V255.9 H395.6 V258.0 H396.7 H414.7 H416.2 V261.4 H424.5 V261.5 H432.8 H434.2 V264.4 H453.0 H453.7 V268.8 H471.7 H472.5 V276.0 H498.4" fill="none" stroke="#1d4858" stroke-width="1.2" stroke-linejoin="miter"/>
<path d="M362.0,242.3 V244.3 M404.0,256.0 V258.0 M444.0,262.4 V264.4 M455.0,266.8 V268.8 M480.0,274.0 V276.0 M490.0,274.0 V276.0" fill="none" stroke="#1d4858" stroke-width="0.9"/>
<path d="M360.1,460.0 H364.8 V460.6 H369.5 H370.8 V464.4 H372.0 H373.9 V468.1 H375.8 H377.6 V472.5 H379.5 H381.4 V475.0 H383.2 H385.1 V477.5 H387.0 H390.1 V478.1 H393.2 H395.1 V479.4 H397.0 H398.9 V481.9 H400.8 H402.6 V484.4 H404.5 H405.8 V487.5 H407.0 H408.2 V489.4 H409.5 H410.8 V492.5 H412.0 H413.9 V495.6 H415.8 H417.0 V496.9 H418.2 H420.8 V498.8 H423.2 H425.1 V501.2 H427.0 H428.9 V505.0 H430.8 H432.0 V508.1 H434.5 V510.0 H437.0 H438.6 V512.3 H440.1 H457.0 H458.2 V514.4 H459.5 H460.8 V516.9 H462.0 H463.0 V521.9 H464.0 H484.6" fill="none" stroke="#a82c4c" stroke-width="1.2" stroke-linejoin="miter" stroke-dasharray="3.2,2"/>
<path d="M364.0,458.0 V460.0 M370.0,458.6 V460.6 M384.0,473.0 V475.0 M395.0,476.1 V478.1 M420.0,494.9 V496.9 M424.0,496.8 V498.8 M437.0,508.0 V510.0 M448.0,510.3 V512.3 M453.0,510.3 V512.3 M463.0,519.9 V521.9 M468.0,519.9 V521.9 M473.0,519.9 V521.9 M478.0,519.9 V521.9 M484.0,519.9 V521.9" fill="none" stroke="#a82c4c" stroke-width="0.9"/>
<path d="M360.1,460.0 H364.8 V460.6 H369.5 H370.8 V461.9 H377.0 H377.9 V463.1 H378.9 H383.2 H384.5 V464.4 H386.4 V465.0 H388.2 H389.5 V465.6 H390.8 H392.6 V466.9 H394.5 H395.8 V469.4 H397.0 H398.2 V472.5 H399.5 H400.8 V474.4 H402.0 H403.9 V475.0 H405.8 H407.0 V476.9 H408.2 H410.1 V478.1 H412.0 H413.2 V480.6 H414.5 H416.4 V481.2 H418.2 H419.5 V481.9 H420.8 H422.0 V483.8 H423.2 H447.0 H447.9 V485.2 H448.9 H480.4" fill="none" stroke="#1d4858" stroke-width="1.2" stroke-linejoin="miter"/>
<path d="M364.0,458.0 V460.0 M367.0,458.6 V460.6 M372.0,459.9 V461.9 M378.0,461.1 V463.1 M383.0,461.1 V463.1 M400.0,470.5 V472.5 M414.0,478.6 V480.6 M422.0,481.8 V483.8 M426.0,481.8 V483.8 M430.0,481.8 V483.8 M434.0,481.8 V483.8 M438.0,481.8 V483.8 M442.0,481.8 V483.8 M446.0,481.8 V483.8 M449.0,483.2 V485.2 M451.5,483.2 V485.2 M454.0,483.2 V485.2 M456.5,483.2 V485.2 M459.0,483.2 V485.2 M461.5,483.2 V485.2 M464.0,483.2 V485.2 M466.5,483.2 V485.2 M469.0,483.2 V485.2 M471.5,483.2 V485.2 M474.0,483.2 V485.2 M476.5,483.2 V485.2 M479.0,483.2 V485.2" fill="none" stroke="#1d4858" stroke-width="0.9"/>
<rect x="0.6" y="0.6" width="518.8" height="646.8" fill="none" stroke="#000" stroke-width="1.3"/>
</svg></body></html>
